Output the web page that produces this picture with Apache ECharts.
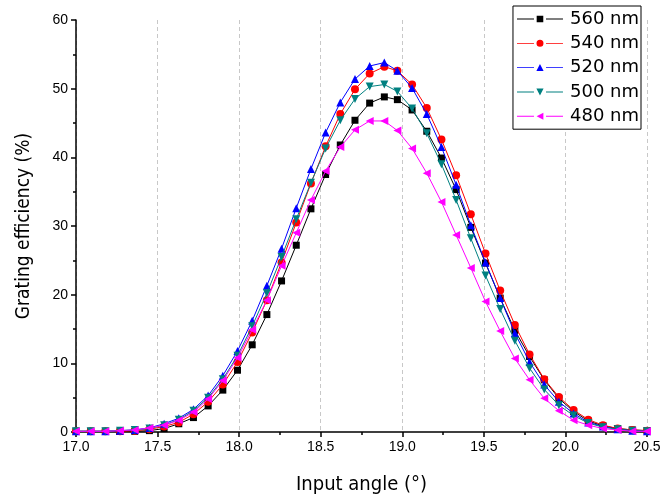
<!DOCTYPE html>
<html>
<head>
<meta charset="utf-8">
<script src="https://cdn.jsdelivr.net/npm/echarts@6/dist/echarts.min.js"></script>
<style>html,body{margin:0;padding:0;background:#fff}#c{width:662px;height:497px}</style>
</head>
<body>
<div id="c"></div>
<script>
const angles = [17.00,17.09,17.18,17.27,17.36,17.45,17.54,17.63,17.72,17.81,17.90,17.99,18.08,18.17,18.26,18.35,18.44,18.53,18.62,18.71,18.80,18.89,18.97,19.06,19.15,19.24,19.33,19.42,19.51,19.60,19.69,19.78,19.87,19.96,20.05,20.14,20.23,20.32,20.41,20.50];
const names = ['560 nm','540 nm','520 nm','500 nm','480 nm'];
const eff560 = [0.1,0.1,0.1,0.1,0.1,0.2,0.5,1.2,2.1,3.8,6.1,9.0,12.7,17.1,22.0,27.2,32.5,37.5,41.8,45.4,47.9,48.8,48.4,46.9,43.8,39.9,35.3,29.8,24.6,19.5,14.8,11.0,7.6,4.9,3.0,1.6,0.9,0.5,0.3,0.2];
const eff540 = [0.1,0.1,0.1,0.1,0.2,0.4,0.8,1.4,2.6,4.4,6.9,10.2,14.5,19.2,24.7,30.5,36.2,41.6,46.3,49.9,52.2,53.2,52.6,50.6,47.2,42.6,37.4,31.7,26.0,20.6,15.6,11.3,7.7,5.1,3.2,1.8,1.0,0.5,0.3,0.2];
const eff520 = [0.1,0.1,0.1,0.2,0.3,0.6,1.2,2.0,3.3,5.3,8.2,11.8,16.2,21.3,26.7,32.6,38.3,43.6,48.0,51.4,53.3,53.8,52.6,50.1,46.3,41.5,36.0,30.1,24.7,19.5,14.4,10.2,6.9,4.4,2.7,1.4,0.8,0.4,0.2,0.1];
const eff500 = [0.1,0.1,0.1,0.2,0.3,0.5,1.0,1.8,3.1,5.0,7.7,11.1,15.4,20.2,25.5,31.0,36.3,41.3,45.4,48.5,50.3,50.6,49.6,47.1,43.5,39.0,33.8,28.2,22.8,17.9,13.3,9.3,6.2,3.9,2.4,1.3,0.7,0.4,0.2,0.1];
const eff480 = [0.1,0.1,0.1,0.2,0.3,0.6,1.0,1.7,2.9,4.8,7.5,10.8,14.9,19.2,24.2,29.0,33.8,38.0,41.5,44.0,45.3,45.3,43.9,41.3,37.7,33.5,28.7,23.9,19.0,14.7,10.7,7.6,4.9,3.1,1.7,1.0,0.5,0.3,0.1,0.1];
const xTicks = ['17.0','17.5','18.0','18.5','19.0','19.5','20.0','20.5'];
const yTicks = ['0','10','20','30','40','50','60'];

const values = [eff560, eff540, eff520, eff500, eff480];
const colors = ['#000000','#ff0000','#0000ff','#008080','#ff00ff'];
const symbols = ['rect','circle','triangle','triangle','triangle'];
const rotates = [0,0,0,180,90];
const sizes = [7,8,8,8,8];

// legend icons: line — marker — line, with gaps around the marker
const seg = 'M0,4.6h17v0.9h-17z M29,4.6h17v0.9h-17z ';
const legendMarks = [
  'M19.7,1.7h6.6v6.6h-6.6z',
  'M19.5,5a3.5,3.5 0 1,0 7,0a3.5,3.5 0 1,0 -7,0z',
  'M23,1.5L26.6,8.5L19.4,8.5z',
  'M19.4,1.5L26.6,1.5L23,8.5z',
  'M19.6,5L26.4,1.5L26.4,8.5z'
];
const legendData = names.map((n,k)=>({
  name:n, icon:'path://' + seg + legendMarks[k], symbolRotate:0,
  itemStyle:{color:colors[k], borderWidth:0}
}));

const chart = echarts.init(document.getElementById('c'), null, {renderer:'canvas'});
const font = 'Liberation Sans';
chart.setOption({
  animation:false,
  backgroundColor:'#fff',
  grid:{left:76, right:15, top:20, bottom:65, containLabel:false, outerBoundsMode:'none'},
  legend:{
    right:21, top:6, orient:'vertical',
    backgroundColor:'#fff', borderColor:'#000', borderWidth:1,
    padding:[4,2,4,4], itemGap:6.3, itemWidth:46, itemHeight:7,
    symbolRotate:0,
    textStyle:{fontFamily:'DejaVu Sans', fontSize:18, color:'#000', padding:[0,0,0,2]},
    data:legendData
  },
  xAxis:{
    type:'value', min:17, max:20.5, interval:0.5,
    name:'Input angle (°)', nameLocation:'middle', nameGap:43,
    nameTextStyle:{fontFamily:'DejaVu Sans Condensed', fontSize:20, color:'#000'},
    axisLine:{show:true, lineStyle:{color:'#000', width:1.5}},
    axisTick:{show:true, length:5, lineStyle:{color:'#000', width:1.5}},
    minorTick:{show:true, splitNumber:2, length:3, lineStyle:{color:'#000', width:1.5}},
    axisLabel:{fontFamily:font, fontSize:14, color:'#000', margin:8,
      formatter:v=>xTicks[Math.round((v-17)/0.5)]},
    splitLine:{show:true, lineStyle:{color:'#c8c8c8', type:[4,3], width:1}}
  },
  yAxis:{
    type:'value', min:0, max:60, interval:10,
    name:'Grating efficiency (%)', nameLocation:'middle', nameGap:42,
    nameTextStyle:{fontFamily:'DejaVu Sans Condensed', fontSize:19, color:'#000'},
    axisLine:{show:true, lineStyle:{color:'#000', width:1.5}},
    axisTick:{show:true, length:5, lineStyle:{color:'#000', width:1.5}},
    minorTick:{show:true, splitNumber:2, length:3, lineStyle:{color:'#000', width:1.5}},
    axisLabel:{fontFamily:font, fontSize:14, color:'#000', margin:8,
      formatter:v=>yTicks[Math.round(v/10)]},
    splitLine:{show:false}
  },
  series: names.map((n,k)=>({
    name:n, type:'line',
    data: angles.map((a,i)=>[a, values[k][i]]),
    symbol:symbols[k], symbolSize:sizes[k], symbolRotate:rotates[k],
    showAllSymbol:true,
    lineStyle:{color:colors[k], width:1},
    itemStyle:{color:colors[k]},
    z:2+k
  }))
});
</script>
</body>
</html>
